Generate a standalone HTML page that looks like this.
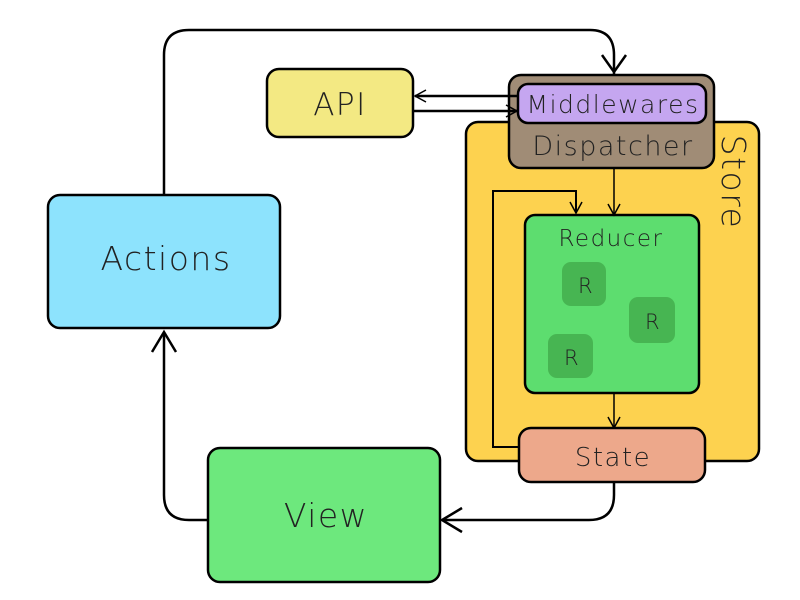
<!DOCTYPE html>
<html><head><style>body{margin:0;background:#fff}svg{display:block}text{font-family:"DejaVu Sans","Liberation Sans",sans-serif;font-weight:200;fill:#222;letter-spacing:1.5px}</style></head><body>
<svg width="800" height="600" viewBox="0 0 800 600" xmlns="http://www.w3.org/2000/svg">
<g stroke="#000" stroke-width="2.5">
<rect x="466" y="122" width="293" height="339" rx="12" fill="#fdd24f"/>
<rect x="48" y="195" width="232" height="133" rx="12" fill="#8de3fd"/>
<rect x="267" y="69" width="146" height="68" rx="12" fill="#f3e983"/>
<rect x="509" y="75" width="205" height="93" rx="12" fill="#a08c76"/>
<rect x="518" y="84" width="188" height="39" rx="10" fill="#c5a6f0"/>
<rect x="525" y="215" width="174" height="178" rx="10" fill="#5ddd6f"/>
<rect x="208" y="448" width="232" height="134" rx="12" fill="#6de87d"/>
</g>
<g fill="#47b552">
<rect x="562" y="262" width="44" height="44" rx="9"/>
<rect x="629" y="297" width="46" height="46" rx="9"/>
<rect x="548" y="334" width="45" height="44" rx="9"/>
</g>
<g fill="none" stroke="#000" stroke-width="2.5">
<path d="M164 195 V55 Q164 30 189 30 H590 Q614 30 614 55 V75"/>
<path d="M602 55 L614 72 L626 55"/>
<path d="M152 352 L164 332 L176 352"/>
<path d="M208 520 H189 Q164 520 164 495 V332"/>
<path d="M614 482 V495 Q614 520 589 520 H442"/>
<path d="M462 508 L442 520 L462 532"/>
<path d="M518 96 H415 M413 111 H518"/>
<path d="M426 90 L415 96 L426 102 M506 105 L517 111 L506 117" stroke-width="1.5"/>
<path d="M519 447 H493 V191 H576 V213" stroke-width="2"/>
<path d="M570 202 L576 213 L582 202 M608 204 L614 215 L620 204 M608 417 L614 428 L620 417" stroke-width="1.5"/>
<path d="M614 168 V215 M614 393 V428" stroke-width="1.5"/>
</g>
<rect x="519" y="428" width="186" height="54" rx="12" fill="#eda88b" stroke="#000" stroke-width="2.5"/>
<text x="166" y="270" font-size="33" text-anchor="middle">Actions</text>
<text x="340" y="115" font-size="31" text-anchor="middle">API</text>
<text x="613" y="113" font-size="25" text-anchor="middle">Middlewares</text>
<text x="613" y="155" font-size="27" text-anchor="middle">Dispatcher</text>
<text x="611" y="246" font-size="23" text-anchor="middle">Reducer</text>
<text x="586" y="293" font-size="21" text-anchor="middle">R</text>
<text x="653" y="329" font-size="21" text-anchor="middle">R</text>
<text x="572" y="365" font-size="21" text-anchor="middle">R</text>
<text x="613" y="466" font-size="26" text-anchor="middle">State</text>
<text x="326" y="527" font-size="33" text-anchor="middle">View</text>
<text transform="translate(722,182) rotate(90)" font-size="33" text-anchor="middle">Store</text>
</svg>
</body></html>
